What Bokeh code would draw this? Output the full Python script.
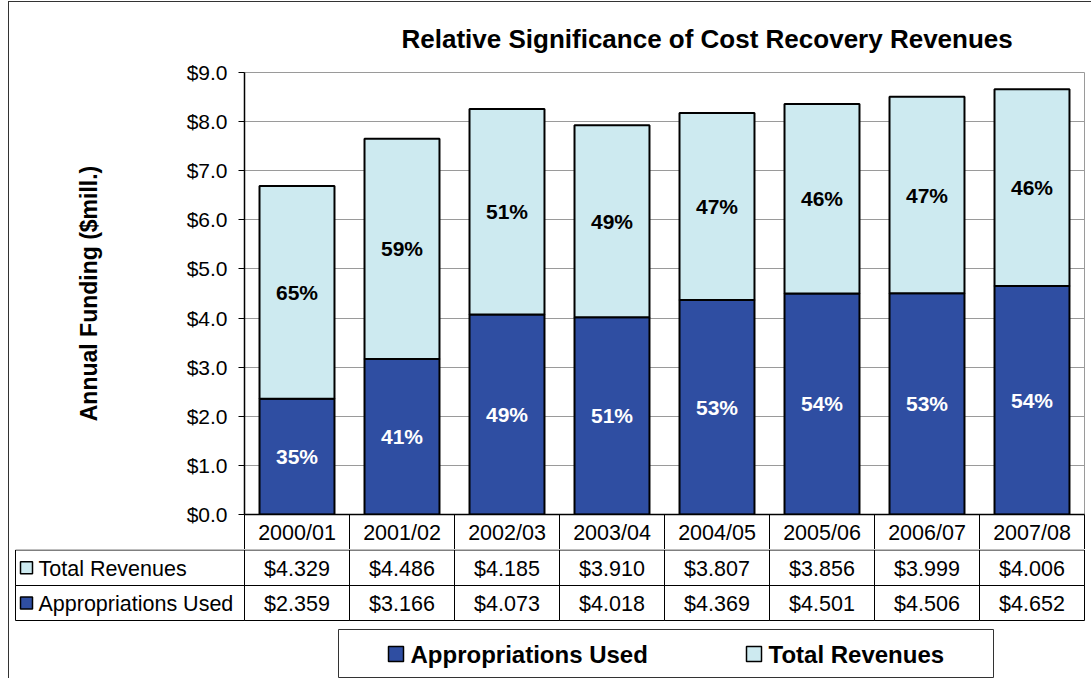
from bokeh.plotting import figure
from bokeh.layouts import column
from bokeh.models import (ColumnDataSource, Range1d, NumeralTickFormatter,
                          LinearAxis, FixedTicker)
from bokeh.embed import file_html
from bokeh.resources import INLINE
from bokeh.core.properties import value

# ---------------- data ----------------
years = ["2000/01", "2001/02", "2002/03", "2003/04", "2004/05", "2005/06", "2006/07", "2007/08"]
appropriations = [2.359, 3.166, 4.073, 4.018, 4.369, 4.501, 4.506, 4.652]
revenues = [4.329, 4.486, 4.185, 3.910, 3.807, 3.856, 3.999, 4.006]
approp_pct = ["35%", "41%", "49%", "51%", "53%", "54%", "53%", "54%"]
revenue_pct = ["65%", "59%", "51%", "49%", "47%", "46%", "47%", "46%"]
y_ticks = [0, 1, 2, 3, 4, 5, 6, 7, 8, 9]
series_names = ["Appropriations Used", "Total Revenues"]
title_text = "Relative Significance of Cost Recovery Revenues"
y_label = "Annual Funding ($mill.)"

# ---------------- style ----------------
DARK = "#2F4EA2"
LIGHT = "#CDEAF0"
FONT = "Liberation Sans"
GRID = "#9a9a9a"
EDGE = "#333333"
TABLE_FS = "21.5px"

# page layout (pixel coordinates on the page)
OX, OY = 9, 2                   # content origin (after css margin + border)
W = 1091 - OX
L, R, T, B = 244, 1084, 71, 514  # chart frame
HEAD_B = 549                     # bottom of the category-label row
PAGE_H = 678
YMAX = 9.0
NCAT = len(years)


def xs(px):
    """page x pixel -> category coordinate"""
    return (px - L) / (R - L) * NCAT


idx = list(range(NCAT))
centers = [i + 0.5 for i in idx]   # category i sits at i + 0.5

src = ColumnDataSource(dict(
    xc=centers,
    years=years,
    approp=appropriations,
    rev=revenues,
    apct=approp_pct,
    rpct=revenue_pct,
    amid=[a / 2 for a in appropriations],
    rmid=[a + r / 2 for a, r in zip(appropriations, revenues)],
))

# ---------------- chart ----------------
p = figure(x_range=Range1d(0, NCAT), y_range=Range1d(0, YMAX),
           width=W, height=HEAD_B - OY, output_backend="svg", toolbar_location=None,
           x_axis_location=None,
           min_border_left=L - OX, min_border_right=OX + W - R,
           min_border_top=T - OY, min_border_bottom=HEAD_B - B,
           background_fill_color="white", border_fill_color="white",
           outline_line_color=GRID, outline_line_width=1)

p.title.text = title_text
p.title.text_font = FONT
p.title.text_font_style = "bold"
p.title.text_font_size = "26px"
p.title.text_color = "black"
p.title.align = "left"
p.title.offset = 157
p.title.standoff = 38

p.vbar_stack(["approp", "rev"], x="xc", width=0.714, color=[DARK, LIGHT],
             line_color="black", line_width=2, source=src)

p.text(x="xc", y="amid", text="apct", source=src, text_color="white",
       text_font=value(FONT), text_font_style="bold", text_font_size="21px",
       text_align="center", text_baseline="middle")
p.text(x="xc", y="rmid", text="rpct", source=src, text_color="black",
       text_font=value(FONT), text_font_style="bold", text_font_size="21px",
       text_align="center", text_baseline="middle")

p.xgrid.grid_line_color = None
p.ygrid.grid_line_color = GRID
p.ygrid.grid_line_width = 1

p.yaxis.ticker = y_ticks
p.yaxis.formatter = NumeralTickFormatter(format="$0.0")
p.yaxis.major_label_text_font = FONT
p.yaxis.major_label_text_font_size = "21px"
p.yaxis.major_label_text_color = "black"
p.yaxis.major_tick_out = 6
p.yaxis.major_tick_in = 0
p.yaxis.major_tick_line_color = "black"
p.yaxis.minor_tick_line_color = None
p.yaxis.axis_line_color = "black"
p.yaxis.axis_line_width = 1.5
p.yaxis.major_label_standoff = 11
p.yaxis.axis_label = y_label
p.yaxis.axis_label_text_font = FONT
p.yaxis.axis_label_text_font_style = "bold"
p.yaxis.axis_label_text_font_size = "23px"
p.yaxis.axis_label_text_color = "black"
p.yaxis.axis_label_standoff = 82

# category axis: labels at category centres, cell borders as long minor ticks
CELL_H = HEAD_B - B
xaxis = LinearAxis(ticker=FixedTicker(ticks=centers, minor_ticks=idx + [NCAT]),
                   major_label_overrides={c: y for c, y in zip(centers, years)},
                   major_tick_line_color=None, major_tick_out=0, major_tick_in=0,
                   minor_tick_line_color="black", minor_tick_line_width=1,
                   minor_tick_out=CELL_H, minor_tick_in=0,
                   axis_line_color="black", axis_line_width=1.5,
                   major_label_text_font=FONT, major_label_text_font_size=TABLE_FS,
                   major_label_text_color="black", major_label_standoff=6 - CELL_H)
p.add_layout(xaxis, "below")

# ---------------- data table + legend (below the chart) ----------------
TH = PAGE_H - HEAD_B
t = figure(x_range=Range1d(xs(OX), xs(OX + W)), y_range=Range1d(PAGE_H, HEAD_B),
           width=W, height=TH, output_backend="svg", toolbar_location=None,
           x_axis_location=None, y_axis_location=None,
           min_border=0, min_border_left=0, min_border_right=0,
           min_border_top=0, min_border_bottom=0,
           outline_line_color=None,
           background_fill_color="white", border_fill_color="white")
t.grid.visible = False

row_lines = [HEAD_B + 0.5, 585, 620]
head_left = xs(15)

rows = [(series_names[1], LIGHT, revenues), (series_names[0], DARK, appropriations)]
for r, (name, col, vals) in enumerate(rows):
    top, bot = row_lines[r], row_lines[r + 1]
    mid = (top + bot) / 2 + 1
    t.quad(left=[head_left] + idx, right=[0] + [i + 1 for i in idx],
           top=[top] * (NCAT + 1), bottom=[bot] * (NCAT + 1),
           fill_color=None, line_color="black", line_width=1)
    t.quad(left=[xs(20)], right=[xs(32)], top=[mid - 7], bottom=[mid + 5],
           fill_color=col, line_color="black", line_width=1.5)
    t.text(x=[xs(38)], y=[mid], text=[name], text_font=value(FONT),
           text_font_size=TABLE_FS, text_color="black", text_align="left",
           text_baseline="middle")
    t.text(x=centers, y=[mid] * NCAT, text=["$%.3f" % v for v in vals],
           text_font=value(FONT), text_font_size=TABLE_FS, text_color="black",
           text_align="center", text_baseline="middle")

# legend
t.quad(left=[xs(338)], right=[xs(993)], top=[629], bottom=[677],
       fill_color=None, line_color=EDGE, line_width=1)
leg_mid = 654
legend_items = [(series_names[0], DARK, 388, 410), (series_names[1], LIGHT, 746, 768)]
for name, col, sq, tx in legend_items:
    t.quad(left=[xs(sq)], right=[xs(sq + 15)], top=[leg_mid - 8], bottom=[leg_mid + 7],
           fill_color=col, line_color="black", line_width=1.5)
    t.text(x=[xs(tx)], y=[leg_mid], text=[name], text_font=value(FONT),
           text_font_style="bold", text_font_size="24px", text_color="black",
           text_align="left", text_baseline="middle")

page = column(p, column(t, spacing=0), spacing=0,
              styles={"margin-left": "8px", "margin-top": "1px",
                      "border-left": "1px solid " + EDGE, "border-top": "1px solid " + EDGE})

open("out.html", "w").write(file_html(page, INLINE))
